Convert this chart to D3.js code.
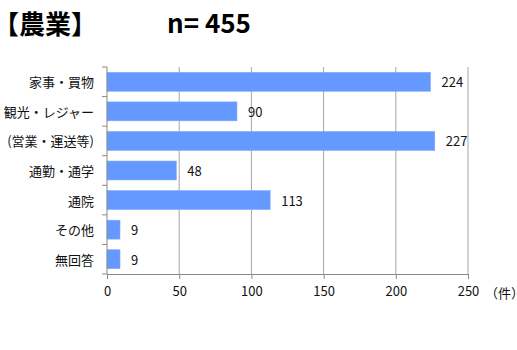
<!DOCTYPE html>
<html>
<head>
<meta charset="utf-8">
<script src="https://cdn.jsdelivr.net/npm/d3@7"></script>
<style>
  body { margin: 0; background: #fff; }
  text { font-family: "Noto Sans CJK JP", "Liberation Sans", sans-serif; }
</style>
</head>
<body>
<div id="chart"></div>
<script>
// 農業 - trip purpose counts
const categories = ["家事・買物", "観光・レジャー", "(営業・運送等)", "通勤・通学", "通院", "その他", "無回答"];
const counts = [224, 90, 227, 48, 113, 9, 9];
const xTicks = [0, 50, 100, 150, 200, 250];

const W = 517, H = 350;
const margin = { top: 67, right: 49, bottom: 76, left: 107 };
const width = W - margin.left - margin.right;
const height = H - margin.top - margin.bottom;

const svg = d3.select("#chart")
    .append("svg")
    .attr("width", W)
    .attr("height", H);

// title
svg.append("text")
    .attr("x", -7)
    .attr("y", 34)
    .attr("font-size", 26)
    .attr("font-weight", "bold")
    .text("【農業】");

svg.append("text")
    .attr("x", 167)
    .attr("y", 33)
    .attr("font-size", 26)
    .attr("font-weight", "bold")
    .attr("font-family", "Liberation Sans Narrow, Liberation Sans, sans-serif")
    .text("n= 455");

const g = svg.append("g")
    .attr("transform", `translate(${margin.left},${margin.top})`);

const x = d3.scaleLinear().domain([0, 250]).range([0, width]);
const y = d3.scaleBand().domain(categories).range([0, height]).paddingInner(0.36).paddingOuter(0.18);

// gridlines
g.append("g")
    .selectAll("line")
    .data(xTicks.slice(1))
    .enter()
    .append("line")
    .attr("x1", d => x(d))
    .attr("x2", d => x(d))
    .attr("y1", 0)
    .attr("y2", height)
    .attr("stroke", "#a6a6a6")
    .attr("stroke-width", 1);

// bars
g.selectAll(".bar")
    .data(counts)
    .enter()
    .append("rect")
    .attr("class", "bar")
    .attr("x", 0)
    .attr("y", (d, i) => y(categories[i]))
    .attr("width", d => x(d))
    .attr("height", y.bandwidth())
    .attr("fill", "#6699ff")
    .attr("stroke", "#80aaff")
    .attr("stroke-width", 0.6);

// value labels
g.selectAll(".val")
    .data(counts)
    .enter()
    .append("text")
    .attr("class", "val")
    .attr("x", d => x(d) + 11)
    .attr("y", (d, i) => y(categories[i]) + y.bandwidth() / 2)
    .attr("dominant-baseline", "central")
    .attr("font-size", 13)
    .attr("fill", "#111")
    .text(d => d);

// x axis
const xAxis = g.append("g")
    .attr("transform", `translate(0,${height})`)
    .call(d3.axisBottom(x).tickValues(xTicks).tickSize(5).tickPadding(8).tickSizeOuter(0));
xAxis.select(".domain").attr("stroke", "#888");
xAxis.selectAll(".tick line").attr("stroke", "#888");
xAxis.selectAll(".tick text")
    .attr("font-size", 13)
    .attr("fill", "#111")
    .attr("font-family", "Noto Sans CJK JP, sans-serif");

// y axis with ticks at band boundaries
const yAxis = g.append("g");
yAxis.append("line")
    .attr("x1", 0).attr("x2", 0)
    .attr("y1", 0).attr("y2", height)
    .attr("stroke", "#888");
yAxis.selectAll(".ytick")
    .data(d3.range(categories.length + 1))
    .enter()
    .append("line")
    .attr("x1", -5).attr("x2", 0)
    .attr("y1", i => i * (height / categories.length))
    .attr("y2", i => i * (height / categories.length))
    .attr("stroke", "#888");

yAxis.selectAll(".ylab")
    .data(categories)
    .enter()
    .append("text")
    .attr("x", -13)
    .attr("y", d => y(d) + y.bandwidth() / 2)
    .attr("text-anchor", "end")
    .attr("dominant-baseline", "central")
    .attr("font-size", 13)
    .attr("fill", "#111")
    .text(d => d);

// unit label
svg.append("text")
    .attr("x", margin.left + width + 17)
    .attr("y", margin.top + height + 18)
    .attr("dominant-baseline", "central")
    .attr("font-size", 13)
    .attr("fill", "#111")
    .text("（件）");
</script>
</body>
</html>
